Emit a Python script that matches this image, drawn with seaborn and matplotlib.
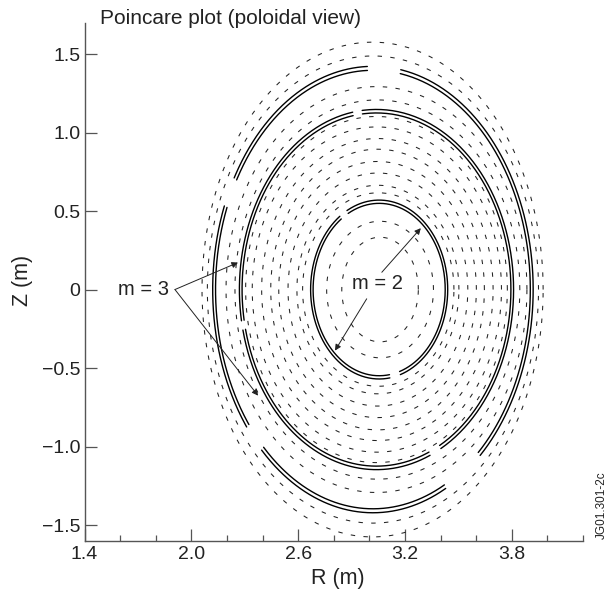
import numpy as np
import pandas as pd
import matplotlib
matplotlib.use("Agg")
import matplotlib.pyplot as plt
import seaborn as sns

# ---- data ----
# dashed (intact) flux surfaces: centre R0, half-width a, elongation kappa
dash_R0 = [3.06, 3.06, 3.05, 3.048, 3.048, 3.046, 3.046, 3.045, 3.042, 3.04,
           3.045, 3.04, 3.02, 3.018]
dash_a = [0.215, 0.30, 0.425, 0.455, 0.505, 0.555, 0.60, 0.65, 0.70, 0.735,
          0.80, 0.845, 0.93, 0.958]
dash_kappa = [1.55, 1.45, 1.45, 1.46, 1.47, 1.47, 1.49, 1.48, 1.48, 1.50,
              1.51, 1.53, 1.60, 1.645]

# island chains (solid double lines): centre, half-width, elongation
island_names = ["m2", "m3_inner", "m3_outer"]
island_R0 = [3.055, 3.04, 3.02]
island_a = [0.385, 0.77, 0.90]
island_kappa = [1.48, 1.49, 1.58]
island_width = [0.014, 0.015, 0.016]
# visible arcs (poloidal angle ranges in degrees, from outboard midplane)
island_arcs = {
    "m2": [(125, 279), (288, 478)],
    "m3_inner": [(100, 190), (193, 293), (298, 456)],
    "m3_outer": [(92, 150), (158, 218), (226, 297), (312, 440)],
}

x_ticks = [1.4, 2.0, 2.6, 3.2, 3.8]
x_tick_labels = ["1.4", "2.0", "2.6", "3.2", "3.8"]
y_ticks = [-1.5, -1.0, -0.5, 0, 0.5, 1.0, 1.5]
y_tick_labels = ["\u22121.5", "\u22121.0", "\u22120.5", "0", "0.5", "1.0", "1.5"]

labels = ["m = 3", "m = 2"]
label_pos = [(1.731, 0.003), (3.044, 0.038)]
arrows_tail = [(1.908, 0.0), (1.908, 0.0), (3.07, 0.11), (2.985, -0.059)]
arrows_head = [(2.262, 0.172), (2.375, -0.676), (3.289, 0.391), (2.807, -0.389)]

# ---- build curve tables ----
def surface(R0, a, k, th_deg):
    th = np.deg2rad(th_deg)
    return R0 + a * np.cos(th), k * a * np.sin(th)

rows = []
for i, (R0, a, k) in enumerate(zip(dash_R0, dash_a, dash_kappa)):
    th = np.linspace(0, 360, 721)
    R, Z = surface(R0, a, k, th)
    rows.append(pd.DataFrame({"R": R, "Z": Z, "curve": f"d{i}"}))
dashed_df = pd.concat(rows, ignore_index=True)

rows = []
for name, R0, a, k, w in zip(island_names, island_R0, island_a, island_kappa, island_width):
    for j, (t0, t1) in enumerate(island_arcs[name]):
        th = np.linspace(t0, t1, 200)
        for s, aa in enumerate([a, a - w]):
            R, Z = surface(R0, aa, k, th)
            rows.append(pd.DataFrame({"R": R, "Z": Z, "curve": f"{name}_{j}_{s}"}))
solid_df = pd.concat(rows, ignore_index=True)

# ---- figure ----
sns.set_theme(style="ticks")
plt.rcParams["font.family"] = ["Liberation Sans", "DejaVu Sans"]
plt.rcParams["lines.scale_dashes"] = False

fig = plt.figure(figsize=(6.11, 5.97), dpi=100)
ax = fig.add_axes([0.1383, 0.0943, 0.8159, 0.8677])

sns.lineplot(data=dashed_df, x="R", y="Z", units="curve", estimator=None,
             sort=False, color="#222222", lw=0.75, linestyle=(0, (3.2, 6.0)),
             ax=ax, legend=False)
sns.lineplot(data=solid_df, x="R", y="Z", units="curve", estimator=None,
             sort=False, color="black", lw=1.0, ax=ax, legend=False)

for txt, (x, y) in zip(labels, label_pos):
    ax.text(x, y, txt, ha="center", va="center", fontsize=14.5, color="#222222")
for (tx, ty), (hx, hy) in zip(arrows_tail, arrows_head):
    ax.annotate("", xy=(hx, hy), xytext=(tx, ty),
                arrowprops=dict(arrowstyle="-|>", lw=0.7, color="#222222",
                                mutation_scale=9, shrinkA=0, shrinkB=0))

ax.set_xlim(1.4, 4.2)
ax.set_ylim(-1.6, 1.7)
ax.set_xticks(x_ticks)
ax.set_xticklabels(x_tick_labels)
ax.set_xticks(np.arange(1.6, 4.21, 0.2), minor=True)
ax.set_yticks(y_ticks)
ax.set_yticklabels(y_tick_labels)

for s in ["top", "right"]:
    ax.spines[s].set_visible(False)
for s in ["left", "bottom"]:
    ax.spines[s].set_color("#555555")
    ax.spines[s].set_linewidth(1.0)
ax.tick_params(axis="both", which="major", direction="in", length=8.5,
               width=0.9, color="#555555", labelsize=14, labelcolor="#222222")
ax.tick_params(axis="x", which="major", pad=4)
ax.tick_params(axis="y", which="major", pad=3)
ax.tick_params(axis="x", which="minor", direction="in", length=4.5,
               width=0.9, color="#555555")

ax.set_xlabel("R (m)", fontsize=15.5, color="#222222")
ax.set_ylabel("Z (m)", fontsize=15.5, color="#222222")
ax.xaxis.set_label_coords(0.5085, -0.053)
ax.yaxis.set_label_coords(-0.103, 0.503)

fig.text(100 / 611, 1 - 18 / 597, "Poincare plot (poloidal view)", ha="left",
         va="center", fontsize=15, color="#222222")
fig.text(602 / 611, 1 - 505 / 597, "JG01.301-2c", rotation=90, ha="center",
         va="center", fontsize=8.5, color="#222222")

fig.savefig("out.png", dpi=100)
